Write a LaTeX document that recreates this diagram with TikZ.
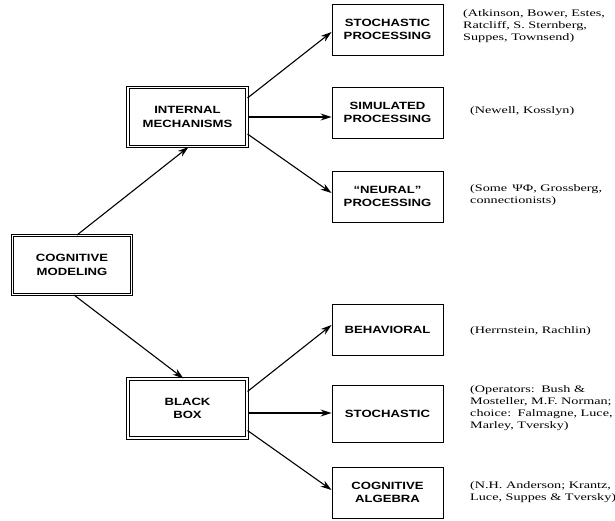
\documentclass[tikz,border=0pt]{standalone}
\usepackage{fontspec}
\usetikzlibrary{arrows.meta,calc}
\newfontfamily\boxf{Liberation Sans}[FakeStretch=1.25]
\newfontfamily\citef{Liberation Serif}[FakeStretch=1.42]
\begin{document}
\begin{tikzpicture}[x=1pt,y=-1pt,
  mainbox/.style={draw, double, line width=1pt, double distance=1.3pt, minimum width=119pt, minimum height=59pt, align=center, inner sep=0pt, font=\boxf\bfseries\fontsize{10.5}{13.5}\selectfont},
  subbox/.style={draw, line width=0.9pt, minimum width=111pt, minimum height=51pt, align=center, inner sep=0pt, font=\boxf\bfseries\fontsize{10.5}{13.5}\selectfont},
  cite/.style={anchor=west, align=left, inner sep=0pt, font=\citef\fontsize{10}{12}\selectfont},
  arr/.style={line width=1.1pt, -{Stealth[length=11pt,width=7pt]}}]
\useasboundingbox (0,0) rectangle (615,521);
% main boxes
\node[mainbox] (cm) at (72,265) {COGNITIVE\\MODELING};
\node[mainbox] (im) at (187.5,117) {INTERNAL\\MECHANISMS};
\node[mainbox] (bb) at (187.5,408.5) {BLACK\\BOX};
% sub boxes
\node[subbox] (sp) at (387.5,29.5) {STOCHASTIC\\PROCESSING};
\node[subbox] (sim) at (387.5,112.5) {SIMULATED\\PROCESSING};
\node[subbox] (neu) at (387.5,196.5) {“NEURAL”\\PROCESSING};
\node[subbox] (beh) at (387.5,329.5) {BEHAVIORAL};
\node[subbox, minimum height=57pt] (sto) at (387.5,413.5) {STOCHASTIC};
\node[subbox] (ca) at (387.5,492.5) {COGNITIVE\\ALGEBRA};
% citations
\node[cite] (c1) at (463,26) {(Atkinson, Bower, Estes,\\Ratcliff, S. Sternberg,\\Suppes, Townsend)};
\node[cite] (c2) at (470,111) {(Newell, Kosslyn)};
\node[cite] (c3) at (470,195) {(Some \,ΨΦ, Grossberg,\\connectionists)};
\node[cite] (c4) at (470,331) {(Herrnstein, Rachlin)};
\node[cite] (c5) at (470,408) {(Operators: \,Bush \&\\Mosteller, M.F. Norman;\\choice: \,Falmagne, Luce,\\Marley, Tversky)};
\node[cite] (c6) at (470,492) {(N.H. Anderson; Krantz,\\Luce, Suppes \& Tversky)};
% connector helper points
\coordinate (bbs) at ($(bb.east)+(0,4.5)$);
\coordinate (stos) at (bbs -| sto.west);
% connectors
\draw[arr] ($(cm.north west)+(65,0)$) -- ($(im.south west)+(61,0)$);
\draw[arr] ($(cm.south west)+(62,0)$) -- ($(bb.north west)+(56,0)$);
\draw[arr] ($(im.north east)+(0,11)$) -- ($(sp.west)+(0,2.5)$);
\draw[arr] (im.east) -- (im.east -| sim.west);
\draw[arr] ($(im.south east)+(0,-13)$) -- ($(neu.west)+(0,-3.5)$);
\draw[arr] ($(bb.north east)+(0,13)$) -- ($(beh.west)+(0,-4.5)$);
\draw[arr] (bbs) -- (stos);
\draw[arr] ($(bb.south east)+(0,-8)$) -- ($(ca.west)+(0,-2.5)$);
\end{tikzpicture}
\end{document}
